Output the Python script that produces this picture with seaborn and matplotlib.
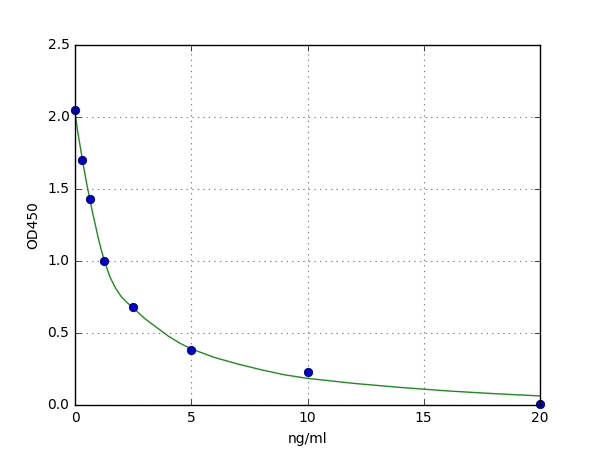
import matplotlib
matplotlib.use('Agg')
import matplotlib.pyplot as plt
import seaborn as sns
import pandas as pd

# standard points
conc = [0, 0.3125, 0.625, 1.25, 2.5, 5, 10, 20]
od = [2.05, 1.70, 1.43, 1.00, 0.68, 0.38, 0.23, 0.01]

# fitted curve at several x
curve_x = [0, 0.125, 0.25, 0.375, 0.5, 0.625, 0.75, 0.875, 1.0, 1.125,
           1.25, 1.5, 1.75, 2.0, 2.25, 2.5, 3, 3.5, 4, 4.5, 5, 6, 7, 8, 9,
           10, 12, 14, 16, 18, 20]
curve_y = [2.03, 1.89, 1.77, 1.65, 1.54, 1.44, 1.34, 1.25, 1.16, 1.08,
           1.01, 0.89, 0.81, 0.75, 0.71, 0.675, 0.60, 0.54, 0.48, 0.43,
           0.39, 0.33, 0.285, 0.245, 0.21, 0.185, 0.15, 0.122, 0.098,
           0.079, 0.063]

points = pd.DataFrame({'x': conc, 'y': od})
fit = pd.DataFrame({'x': curve_x, 'y': curve_y})

plt.style.use('classic')
fig = plt.figure(figsize=(6, 4.5), dpi=100, facecolor='white')
ax = fig.add_axes([0.125, 0.1, 0.775, 0.8])

sns.lineplot(data=fit, x='x', y='y', ax=ax, color='#1e8c1e', linewidth=1)
sns.scatterplot(data=points, x='x', y='y', ax=ax, color='#0000cc', s=36,
                edgecolor='#000066', linewidth=0.6, zorder=3, clip_on=False)

ax.set_xlim(0, 20)
ax.set_ylim(0, 2.5)
ax.set_xticks([0, 5, 10, 15, 20])
ax.set_yticks([0.0, 0.5, 1.0, 1.5, 2.0, 2.5])
ax.set_yticklabels(['0.0', '0.5', '1.0', '1.5', '2.0', '2.5'])
ax.set_axisbelow(True)
ax.grid(True, linestyle=':', color='gray', linewidth=0.8)
for sp in ax.spines.values():
    sp.set_zorder(4)
ax.tick_params(direction='in', length=4, labelsize=10)
ax.set_xlabel('ng/ml', fontsize=10)
ax.set_ylabel('OD450', fontsize=10)

fig.savefig('out.png', dpi=100, facecolor='white')
